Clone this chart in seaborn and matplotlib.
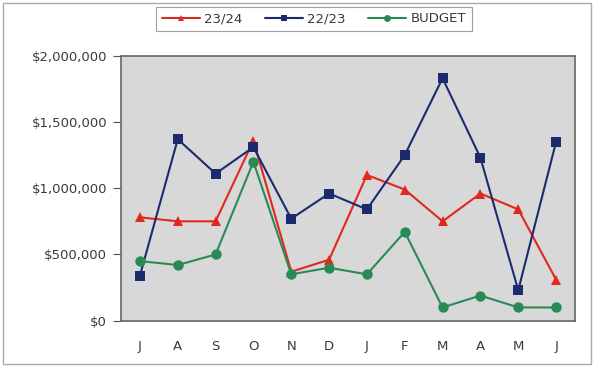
import matplotlib
matplotlib.use("Agg")
import matplotlib.pyplot as plt
from matplotlib.patches import Rectangle
from matplotlib.lines import Line2D
import seaborn as sns
import pandas as pd

months = ["J", "A", "S", "O", "N", "D", "J", "F", "M", "A", "M", "J"]
series_names = ["23/24", "22/23", "BUDGET"]
sales_2324 = [780000, 750000, 750000, 1360000, 370000, 460000, 1100000, 990000, 750000, 960000, 840000, 310000]
sales_2223 = [340000, 1370000, 1110000, 1310000, 770000, 960000, 840000, 1250000, 1830000, 1230000, 230000, 1350000]
budget = [450000, 420000, 500000, 1200000, 350000, 400000, 350000, 670000, 100000, 190000, 100000, 100000]
y_ticks = [0, 500000, 1000000, 1500000, 2000000]

colors = {"23/24": "#e0281e", "22/23": "#1c2b6e", "BUDGET": "#2a8a55"}
markers = {"23/24": "^", "22/23": "s", "BUDGET": "o"}

rows = []
for name, vals in zip(series_names, [sales_2324, sales_2223, budget]):
    for i, v in enumerate(vals):
        rows.append({"pos": i, "value": v, "series": name})
df = pd.DataFrame(rows)

sns.set_theme(style="white")
plt.rcParams["font.family"] = ["DejaVu Sans"]
text_color = "#3a3a3a"

fig = plt.figure(figsize=(5.97, 3.69), dpi=100)
fig.patch.set_facecolor("white")
ax = fig.add_axes([121 / 597, 1 - 320.7 / 369, 454 / 597, 265 / 369])
ax.set_facecolor("#d8d8d8")

sns.lineplot(
    data=df, x="pos", y="value", hue="series", style="series",
    hue_order=series_names, style_order=series_names,
    palette=colors, markers=markers, dashes=False,
    linewidth=1.5, markersize=7.5, markeredgewidth=0, legend=False, ax=ax,
)

ax.set_xlim(-0.5, 11.5)
ax.set_ylim(0, 2000000)
ax.set_xticks(range(len(months)))
ax.set_xticklabels(months)
ax.set_yticks(y_ticks)
ax.set_yticklabels([f"${v:,.0f}" for v in y_ticks])
ax.set_xlabel("")
ax.set_ylabel("")
ax.tick_params(axis="x", length=0, pad=14, labelsize=9.5, labelcolor=text_color)
ax.tick_params(axis="y", length=6, width=0.8, color="#555555", direction="out",
               pad=4, labelsize=9.5, labelcolor=text_color)
ax.yaxis.set_ticks_position("left")
for s in ax.spines.values():
    s.set_color("#666666")
    s.set_linewidth(1.2)

# legend keys with smaller markers than the plotted points
handles = [Line2D([], [], color=colors[n], marker=markers[n], markersize=5,
                  markeredgewidth=0, linewidth=1.5) for n in series_names]
leg = fig.legend(handles, series_names, loc="center", ncol=3,
                 bbox_to_anchor=(314 / 597, 1 - 19 / 369), fontsize=9.5,
                 frameon=True, fancybox=False, handlelength=2.9,
                 columnspacing=1.7, handletextpad=0.3, borderpad=0.45)
leg.get_frame().set_edgecolor("#888888")
leg.get_frame().set_linewidth(0.8)
for t in leg.get_texts():
    t.set_color(text_color)

fig.patches.append(Rectangle((3 / 597, 5 / 369), 588 / 597, 361 / 369,
                             transform=fig.transFigure, fill=False,
                             edgecolor="#aaaaaa", linewidth=1.0))

fig.savefig("out.png", dpi=100)
